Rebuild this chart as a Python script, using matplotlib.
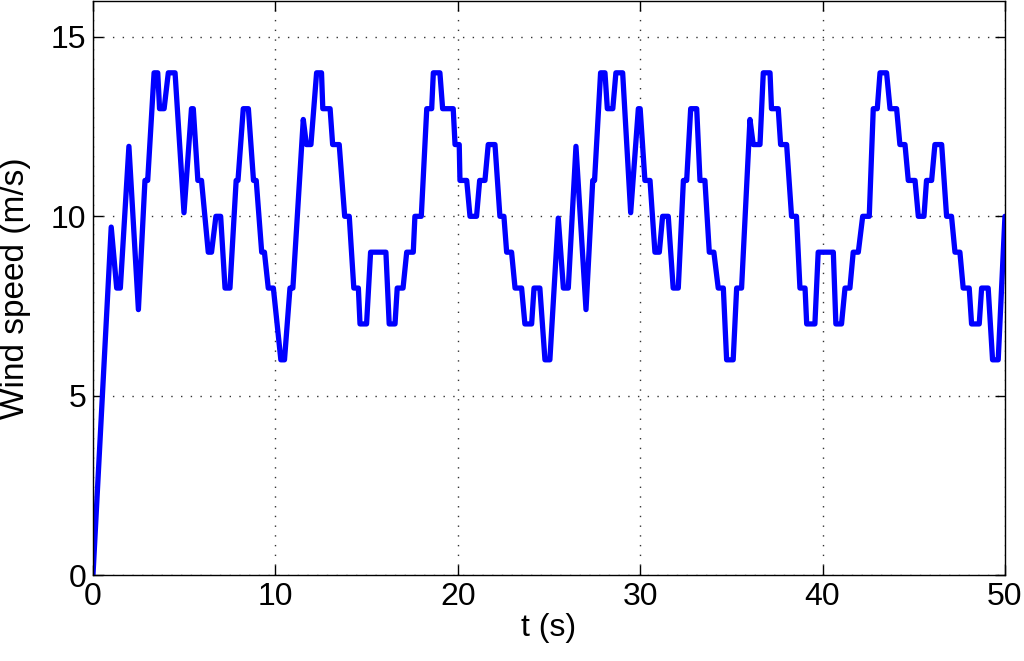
import numpy as np
import matplotlib
matplotlib.use('Agg')
import matplotlib.pyplot as plt

# Knot points of the wind speed profile (t in s, v in m/s)
t_pts = [0.0, 1.0, 1.3, 1.5, 1.97, 2.49, 2.85, 3.0, 3.35, 3.55, 3.65, 3.9, 4.13, 4.5,
         4.99, 5.4, 5.5, 5.75, 5.95, 6.32, 6.5, 6.74, 7.0, 7.24, 7.51, 7.85, 7.95,
         8.24, 8.52, 8.8, 8.95, 9.25, 9.4, 9.61, 9.89, 10.3, 10.5, 10.8, 10.96,
         11.53, 11.7, 11.95, 12.26, 12.53, 12.6, 13.0, 13.14, 13.5, 13.8, 14.05,
         14.3, 14.55, 14.64, 15.0, 15.22, 16.06, 16.24, 16.56, 16.68, 17.0, 17.2,
         17.56, 17.65, 18.0, 18.3, 18.57, 18.66, 19.02, 19.17, 19.75, 19.85, 20.08,
         20.12, 20.49, 20.67, 21.03, 21.2, 21.49, 21.67, 22.04, 22.31, 22.53, 22.68,
         22.95, 23.14, 23.5, 23.68, 24.05, 24.18, 24.5, 24.78, 25.05, 25.51, 25.79,
         26.06, 26.48, 27.03, 27.4, 27.5, 27.83, 28.07, 28.2, 28.5, 28.67, 29.04,
         29.48, 29.9, 30.0, 30.26, 30.54, 30.81, 31.05, 31.23, 31.54, 31.81, 32.09,
         32.37, 32.55, 32.77, 33.1, 33.28, 33.55, 33.79, 34.04, 34.28, 34.56, 34.74,
         35.1, 35.29, 35.56, 36.02, 36.2, 36.57, 36.75, 37.12, 37.2, 37.57, 37.7,
         38.03, 38.3, 38.57, 38.76, 39.04, 39.13, 39.58, 39.76, 40.59, 40.73, 41.04,
         41.23, 41.5, 41.68, 41.96, 42.2, 42.56, 42.78, 43.0, 43.15, 43.51, 43.7,
         44.06, 44.24, 44.52, 44.7, 45.07, 45.25, 45.56, 45.7, 45.98, 46.16, 46.53,
         46.8, 47.07, 47.26, 47.53, 47.71, 48.04, 48.17, 48.59, 48.72, 49.08, 49.32,
         49.63, 50.0]
v_pts = [0.0, 9.7, 8, 8, 11.95, 7.4, 11, 11, 14, 14, 13, 13, 14, 14,
         10.1, 13, 13, 11, 11, 9, 9, 10, 10, 8, 8, 11, 11,
         13, 13, 11, 11, 9, 9, 8, 8, 6, 6, 8, 8,
         12.7, 12, 12, 14, 14, 13, 13, 12, 12, 10, 10,
         8, 8, 7, 7, 9, 9, 7, 7, 8, 8, 9,
         9, 10, 10, 13, 13, 14, 14, 13, 13, 12, 12,
         11, 11, 10, 10, 11, 11, 12, 12, 10, 10, 9,
         9, 8, 8, 7, 7, 8, 8, 6, 6, 9.95, 8,
         8, 11.95, 7.4, 11, 11, 14, 14, 13, 13, 14, 14,
         10.1, 13, 13, 11, 11, 9, 9, 10, 10, 8, 8,
         11, 11, 13, 13, 11, 11, 9, 9, 8, 8, 6,
         6, 8, 8, 12.7, 12, 12, 14, 14, 13, 13, 12,
         12, 10, 10, 8, 8, 7, 7, 9, 9, 7, 7,
         8, 8, 9, 9, 10, 10, 13, 13, 14, 14, 13,
         13, 12, 12, 11, 11, 10, 10, 11, 11, 12, 12,
         10, 10, 9, 9, 8, 8, 7, 7, 8, 8, 6,
         6, 10]

x_ticks = [0, 10, 20, 30, 40, 50]
y_ticks = [0, 5, 10, 15]

plt.rcParams['font.family'] = ['Liberation Sans', 'DejaVu Sans']

fig = plt.figure(figsize=(10.24, 6.61), dpi=100)
ax = fig.add_axes([0.0908, 0.130, 0.8906, 0.8684])

ax.plot(t_pts, v_pts, color='#0000ff', linewidth=3.8,
        solid_joinstyle='round', solid_capstyle='round')

ax.set_xlim(0, 50)
ax.set_ylim(0, 16)
ax.set_xticks(x_ticks)
ax.set_yticks(y_ticks)
ax.tick_params(direction='in', top=True, right=True, labelsize=23, length=7, width=1, pad=5)
ax.grid(True, linestyle=(0, (1, 6)), color='#333333', linewidth=1.0)
for s in ax.spines.values():
    s.set_linewidth(1)

ax.set_xlabel('t (s)', fontsize=23, labelpad=1)
ax.set_ylabel('Wind speed (m/s)', fontsize=24, labelpad=14)

plt.savefig('out.png', dpi=100)
